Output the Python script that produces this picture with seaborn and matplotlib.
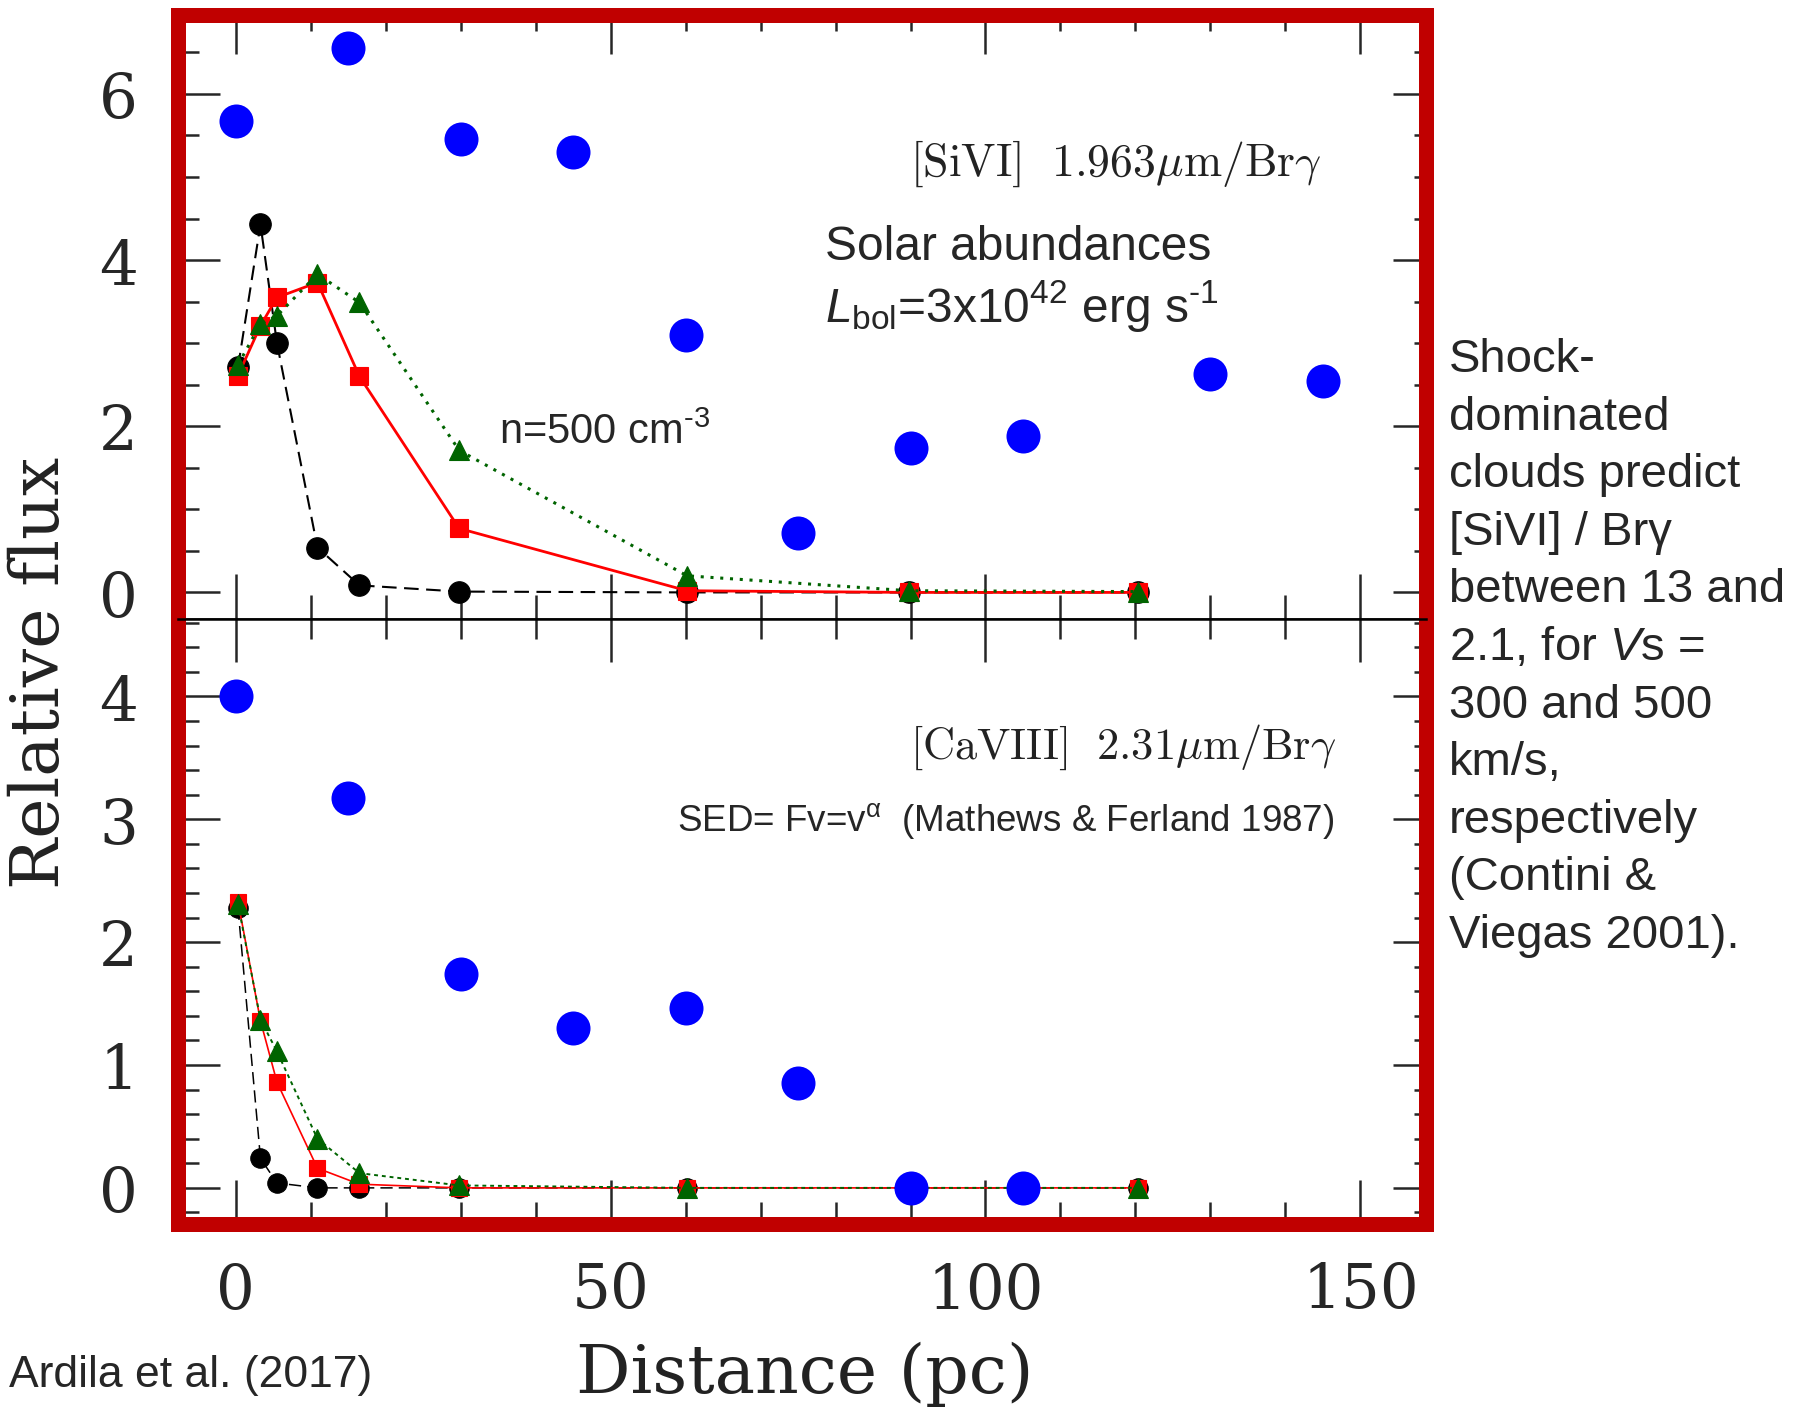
import matplotlib
matplotlib.use("Agg")
import matplotlib.pyplot as plt
import seaborn as sns
from matplotlib.ticker import MultipleLocator

# ---------------- data ----------------
obs_dist_sivi = [0, 15, 30, 45, 60, 75, 90, 105, 130, 145]
obs_sivi = [5.67, 6.55, 5.46, 5.30, 3.10, 0.72, 1.74, 1.88, 2.63, 2.54]

obs_dist_caviii = [0, 15, 30, 45, 60, 75, 90, 105]
obs_caviii = [4.00, 3.17, 1.74, 1.30, 1.46, 0.85, 0.00, 0.00]

model_dist = [0.3, 3.3, 5.5, 10.9, 16.5, 29.8, 60.2, 89.8, 120.4]

sivi_black = [2.71, 4.43, 3.00, 0.54, 0.085, 0.01, 0.00, 0.00, 0.00]
sivi_red = [2.61, 3.21, 3.55, 3.73, 2.60, 0.77, 0.02, 0.00, 0.00]
sivi_green = [2.74, 3.23, 3.33, 3.83, 3.49, 1.71, 0.20, 0.02, 0.01]

caviii_black = [2.28, 0.24, 0.04, 0.00, 0.00, 0.00, 0.00, 0.00, 0.00]
caviii_red = [2.33, 1.36, 0.86, 0.16, 0.03, 0.00, 0.00, 0.00, 0.00]
caviii_green = [2.31, 1.37, 1.11, 0.40, 0.12, 0.02, 0.00, 0.00, 0.00]

x_ticks = [0, 50, 100, 150]

# ---------------- style ----------------
sns.set_style("ticks")
plt.rcParams["font.family"] = ["Liberation Sans", "DejaVu Sans"]
plt.rcParams["mathtext.fontset"] = "custom"
plt.rcParams["mathtext.rm"] = "Liberation Sans"
plt.rcParams["mathtext.it"] = "Liberation Sans:italic"
plt.rcParams["mathtext.bf"] = "Liberation Sans:bold"
plt.rcParams["mathtext.sf"] = "Liberation Sans"

W, H, DPI = 1796, 1411, 100
PT = DPI / 72.0  # px per point
RED = "#C00000"
BLUE = "#0000FF"
GREEN = "#006400"
MRED = "#FF0000"

fig = plt.figure(figsize=(W / DPI, H / DPI), dpi=DPI)
fig.patch.set_facecolor("white")

L, R = 178, 1425.6
axT = fig.add_axes([L / W, 1 - 619 / H, (R - L) / W, (619 - 15) / H])
axB = fig.add_axes([L / W, 1 - 1224 / H, (R - L) / W, (1224 - 619) / H])

XLIM = (-7.7, 158.7)
axT.set_xlim(*XLIM)
axB.set_xlim(*XLIM)
axT.set_ylim(-0.32, 6.95)
axB.set_ylim(-0.294, 4.63)


def model(ax, y, color, marker, ms, ls, lw):
    sns.lineplot(x=model_dist, y=y, ax=ax, color=color, marker=marker,
                 markersize=ms, linestyle=ls, linewidth=lw,
                 markeredgecolor=color, markeredgewidth=0.8,
                 errorbar=None, sort=False, legend=False)


# top panel
model(axT, sivi_black, "black", "o", 15.5, (0, (7, 3.6)), 1.5)
model(axT, sivi_red, MRED, "s", 13.0, "-", 2.0)
model(axT, sivi_green, GREEN, "^", 15.0, (0, (1, 2.2)), 2.2)
sns.scatterplot(x=obs_dist_sivi, y=obs_sivi, ax=axT, s=600, color=BLUE,
                linewidth=0, zorder=5, legend=False)

# bottom panel
model(axB, caviii_black, "black", "o", 14.0, (0, (8, 4)), 1.1)
model(axB, caviii_red, MRED, "s", 12.0, "-", 1.2)
model(axB, caviii_green, GREEN, "^", 14.0, (0, (2, 2)), 1.4)
sns.scatterplot(x=obs_dist_caviii, y=obs_caviii, ax=axB, s=600, color=BLUE,
                linewidth=0, zorder=5, legend=False)

SPW = 15 / PT  # red frame width in points
half = 7.5


def L_(px):
    return px / PT


for ax, inner in ((axT, "bottom"), (axB, "top")):
    for side in ("left", "right", "top", "bottom"):
        sp = ax.spines[side]
        if side == inner:
            sp.set_color("black")
            sp.set_linewidth(1.8)
        else:
            sp.set_color(RED)
            sp.set_linewidth(SPW)
            sp.set_capstyle("projecting")
        sp.set_visible(True)
    ax.set_xlabel("")
    ax.set_ylabel("")
    ax.xaxis.set_major_locator(MultipleLocator(50))
    ax.xaxis.set_minor_locator(MultipleLocator(10))

axT.yaxis.set_major_locator(MultipleLocator(2))
axT.yaxis.set_minor_locator(MultipleLocator(0.5))
axB.yaxis.set_major_locator(MultipleLocator(1))
axB.yaxis.set_minor_locator(MultipleLocator(0.2))

TICK_FS = 44

# left y ticks
for ax in (axT, axB):
    ax.tick_params(axis="y", which="major", left=True, right=False, direction="in",
                   length=L_(34 + half), width=1.8, pad=L_(40), labelsize=TICK_FS)
    ax.tick_params(axis="y", which="minor", left=True, right=False, direction="in",
                   length=L_(13 + half), width=1.8)
    for lab in ax.get_yticklabels():
        lab.set_fontfamily("DejaVu Serif")
    # right y ticks
    sy = ax.secondary_yaxis("right")
    sy.yaxis.set_major_locator(ax.yaxis.get_major_locator())
    sy.yaxis.set_minor_locator(ax.yaxis.get_minor_locator())
    sy.tick_params(axis="y", which="major", direction="in", length=L_(26 + half),
                   width=1.8, labelright=False)
    sy.tick_params(axis="y", which="minor", direction="in", length=L_(5 + half),
                   width=1.8)
    sy.spines["right"].set_visible(False)

# top panel: top edge ticks
axT.tick_params(axis="x", which="major", top=True, bottom=False, direction="in",
                length=L_(31 + half), width=1.8, labelbottom=False, labeltop=False)
axT.tick_params(axis="x", which="minor", top=True, bottom=False, direction="in",
                length=L_(8 + half), width=1.8)
# top panel: ticks at the divider (pointing up)
sxT = axT.secondary_xaxis("bottom")
sxT.xaxis.set_major_locator(MultipleLocator(50))
sxT.xaxis.set_minor_locator(MultipleLocator(10))
sxT.tick_params(axis="x", which="major", direction="in", length=L_(45), width=1.8,
                labelbottom=False)
sxT.tick_params(axis="x", which="minor", direction="in", length=L_(24), width=1.8)
sxT.spines["bottom"].set_visible(False)

# bottom panel: bottom edge ticks with labels
axB.tick_params(axis="x", which="major", bottom=True, top=False, direction="in",
                length=L_(37 + half), width=1.8, pad=L_(37), labelsize=TICK_FS)
axB.tick_params(axis="x", which="minor", bottom=True, top=False, direction="in",
                length=L_(14.5 + half), width=1.8)
axB.set_xticks(x_ticks)
for lab in axB.get_xticklabels():
    lab.set_fontfamily("DejaVu Serif")
# bottom panel: ticks at the divider (pointing down)
sxB = axB.secondary_xaxis("top")
sxB.xaxis.set_major_locator(MultipleLocator(50))
sxB.xaxis.set_minor_locator(MultipleLocator(10))
sxB.tick_params(axis="x", which="major", direction="in", length=L_(43), width=1.8,
                labeltop=False)
sxB.tick_params(axis="x", which="minor", direction="in", length=L_(20), width=1.8)
sxB.spines["top"].set_visible(False)


def ftext(x, y, s, **kw):
    return fig.text(x / W, 1 - y / H, s, **kw)


serif = ["DejaVu Serif"]
ftext(805, 1374, "Distance (pc)", family=serif, fontsize=49, ha="center",
      va="center", color="#222222")
ftext(40, 673, "Relative flux", family=serif, fontsize=49, ha="center",
      va="center", rotation=90, color="#222222")

ftext(910, 164, r"$\mathrm{[SiVI]}\ \ \mathrm{1.963}\mu\mathrm{m/Br}\gamma$",
      fontsize=33, ha="left", va="center", math_fontfamily="cm", color="#222222")
ftext(910, 747, r"$\mathrm{[CaVIII]}\ \ \mathrm{2.31}\mu\mathrm{m/Br}\gamma$",
      fontsize=32, ha="left", va="center", math_fontfamily="cm", color="#222222")

ftext(825, 247, "Solar abundances", fontsize=34.5, ha="left", va="center")
ftext(825, 306, r"$\mathit{L}_{\mathrm{bol}}$=3x10$^{\mathrm{42}}$ erg s$^{\text{-1}}$",
      fontsize=34.5, ha="left", va="center")
ftext(499, 433, r"n=500 cm$^{\text{-3}}$", fontsize=30, ha="left", va="center")
ftext(677, 821, r"SED= Fv=v$^{\mathrm{α}}$  (Mathews & Ferland 1987)",
      fontsize=26.5, ha="left", va="center")

side_text = ("Shock-\ndominated\nclouds predict\n[SiVI] / Brγ\nbetween 13 and\n"
             "2.1, for $\\mathit{V}$s =\n300 and 500\nkm/s,\nrespectively\n"
             "(Contini &\nViegas 2001).")
ftext(1449, 338, side_text, fontsize=34, ha="left", va="top", linespacing=1.40)

ftext(372, 1375, "Ardila et al. (2017)", fontsize=32, ha="right", va="center")

fig.savefig("out.png", dpi=DPI, facecolor="white")
